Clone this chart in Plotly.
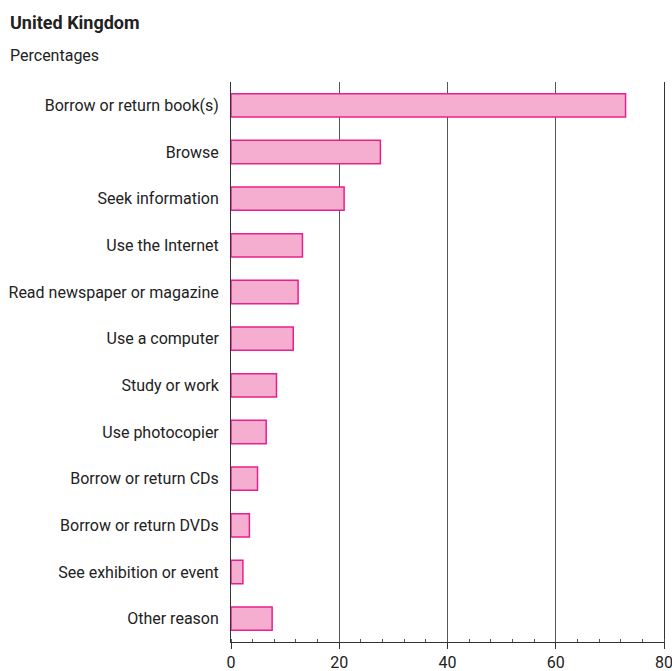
import plotly.graph_objects as go

categories = [
    "Borrow or return book(s)",
    "Browse",
    "Seek information",
    "Use the Internet",
    "Read newspaper or magazine",
    "Use a computer",
    "Study or work",
    "Use photocopier",
    "Borrow or return CDs",
    "Borrow or return DVDs",
    "See exhibition or event",
    "Other reason",
]
values = [72.9, 27.6, 20.9, 13.2, 12.4, 11.5, 8.4, 6.5, 4.9, 3.4, 2.2, 7.6]
x_ticks = [0, 20, 40, 60, 80]

FONT = "Roboto"
L, R, T, B = 231, 8, 82, 29
W, H = 672, 671
PW, PH = W - L - R, H - T - B

fig = go.Figure(
    go.Bar(
        x=values,
        y=categories,
        orientation="h",
        width=0.5,
        marker=dict(color="#F5AECF", line=dict(color="#E8208F", width=1.5)),
        hoverinfo="x+y",
    )
)

fig.update_layout(
    width=W,
    height=H,
    margin=dict(l=L, r=R, t=T, b=B, autoexpand=False),
    paper_bgcolor="white",
    plot_bgcolor="white",
    font=dict(family=FONT, size=16, color="#222222"),
    showlegend=False,
)

fig.add_annotation(text="<b>United Kingdom</b>", xref="paper", yref="paper",
                   x=(8 - L) / PW, y=1 + (T - 23) / PH, xanchor="left", yanchor="middle",
                   showarrow=False, font=dict(family=FONT, size=18, color="#222222"))
fig.add_annotation(text="Percentages", xref="paper", yref="paper",
                   x=(8 - L) / PW, y=1 + (T - 56) / PH, xanchor="left", yanchor="middle",
                   showarrow=False, font=dict(family=FONT, size=16, color="#222222"))

fig.update_xaxes(
    range=[0, 80],
    tickvals=x_ticks,
    ticktext=[str(v) for v in x_ticks],
    showgrid=True,
    gridcolor="#555555",
    gridwidth=1,
    zeroline=False,
    showline=True,
    linecolor="#333333",
    linewidth=1,
    ticks="outside",
    ticklen=6,
    tickcolor="#333333",
    ticklabelstandoff=0,
    ticklabeloverflow="allow",
    tickfont=dict(family=FONT, size=16, color="#222222"),
    minor=dict(dtick=4, ticks="inside", ticklen=3, tickcolor="#555555", showgrid=False),
    automargin=False,
    fixedrange=True,
)

fig.update_yaxes(
    categoryorder="array",
    categoryarray=categories,
    autorange="reversed",
    showline=True,
    mirror=True,
    linecolor="#333333",
    linewidth=1,
    showgrid=False,
    zeroline=False,
    ticks="",
    ticklabelstandoff=8,
    tickfont=dict(family=FONT, size=16, color="#222222"),
    automargin=False,
    fixedrange=True,
)

fig.write_html(
    "out.html",
    config={"displayModeBar": False},
    post_script="document.body.style.margin='0';document.body.style.overflow='hidden';",
)
